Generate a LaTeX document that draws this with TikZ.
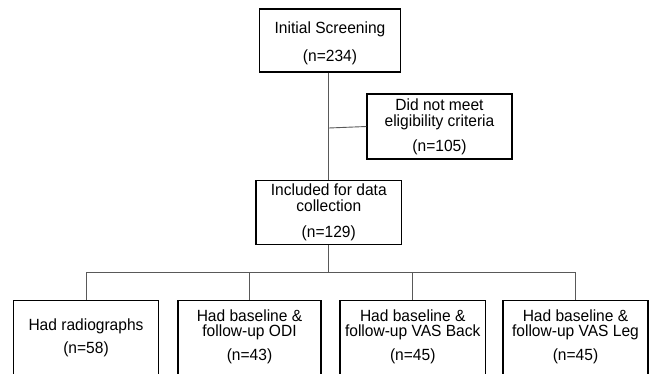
\documentclass[tikz,border=0pt]{standalone}
\usepackage{fontspec}
\setmainfont{Liberation Sans}[FakeStretch=0.96]
\begin{document}
\begin{tikzpicture}[x=1pt,y=-1pt,
  box/.style={draw=black,line width=1.2pt,inner sep=0pt,fill=none},
  conn/.style={draw=black!65,line width=0.9pt},
  txt/.style={anchor=base,inner sep=0pt,font=\fontsize{16.2}{18}\selectfont,text=black}]
\useasboundingbox (0,0) rectangle (649,373);
\clip (0,0) rectangle (649,373);
\fill[white] (0,0) rectangle (649,373);
% boxes
\node[box,minimum width=141pt,minimum height=63pt] (top) at (330,40.5) {};
\node[box,minimum width=145pt,minimum height=65pt] (elig) at (439.5,126.5) {};
\node[box,minimum width=145.5pt,minimum height=63.6pt] (mid) at (328.75,212.5) {};
\node[box,minimum width=145pt,minimum height=100pt] (b1) at (86,350.7) {};
\node[box,minimum width=143pt,minimum height=100pt] (b2) at (249.5,350.7) {};
\node[box,minimum width=145.5pt,minimum height=100pt] (b3) at (412.75,350.7) {};
\node[box,minimum width=145pt,minimum height=100pt] (b4) at (575.5,350.7) {};
% texts
\node[txt] (t1a) at (330,33.3) {Initial Screening};
\node[txt] (t1b) at (330,61.5) {(n=234)};
\node[txt] (e1) at (439.5,110.7) {Did not meet};
\node[txt] (e2) at (439.5,126) {eligibility criteria};
\node[txt] (e3) at (439.5,151.7) {(n=105)};
\node[txt] (m1) at (328.75,195.7) {Included for data};
\node[txt] (m2) at (328.75,211.7) {collection};
\node[txt] (m3) at (328.75,237.3) {(n=129)};
\node[txt] (r1) at (86,330) {Had radiographs};
\node[txt] (r2) at (86,353.3) {(n=58)};
\node[txt] (o1) at (249.5,321.7) {Had baseline \&};
\node[txt] (o2) at (249.5,336.5) {follow-up ODI};
\node[txt] (o3) at (249.5,360.7) {(n=43)};
\node[txt] (v1) at (412.75,321.7) {Had baseline \&};
\node[txt] (v2) at (412.75,336.5) {follow-up VAS Back};
\node[txt] (v3) at (412.75,360.7) {(n=45)};
\node[txt] (l1) at (575.5,321.7) {Had baseline \&};
\node[txt] (l2) at (575.5,336.5) {follow-up VAS Leg};
\node[txt] (l3) at (575.5,360.7) {(n=45)};
% connectors
\coordinate (j1) at (328.75,128);
\coordinate (bus) at (328.75,272.7);
\draw[conn] (mid.north |- top.south) -- (mid.north);
\draw[conn] (j1) -- (elig.west);
\draw[conn] (mid.south) -- (bus);
\draw[conn] (b1.north |- bus) -- (b4.north |- bus);
\foreach \b in {b1,b2,b3,b4}{
  \draw[conn] (\b.north |- bus) -- (\b.north);
}
\end{tikzpicture}
\end{document}
